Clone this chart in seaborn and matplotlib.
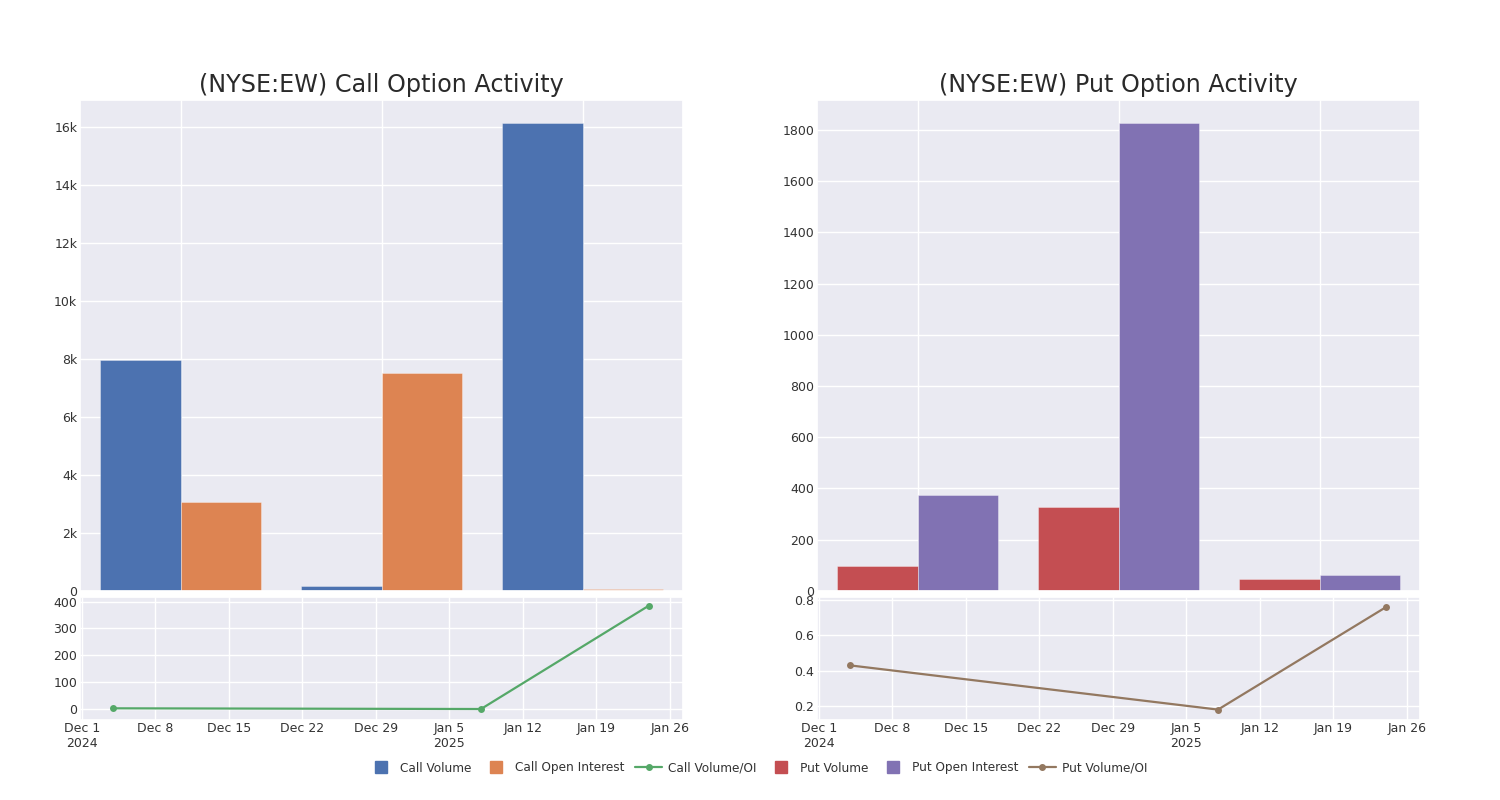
import numpy as np
import pandas as pd
import matplotlib
matplotlib.use("Agg")
import matplotlib.pyplot as plt
import matplotlib.dates as mdates
from matplotlib.ticker import FuncFormatter, MultipleLocator
from matplotlib.lines import Line2D
import seaborn as sns

# ---- data ----
bar_dates = ["2024-12-04", "2025-01-08", "2025-01-24"]
call_volume = [7950, 150, 16130]
call_open_interest = [3060, 7500, 42]
put_volume = [98, 328, 47]
put_open_interest = [372, 1826, 63]
line_dates = ["2024-12-04", "2025-01-08", "2025-01-24"]
call_vol_oi = [2.6, 0.02, 385]
put_vol_oi = [0.43, 0.18, 0.76]

deep = sns.color_palette("deep")
c_cv, c_coi, c_cr, c_pv, c_poi, c_pr = deep[0], deep[1], deep[2], deep[3], deep[4], deep[5]

sns.set_theme(style="darkgrid")
plt.rcParams['font.family'] = ['DejaVu Sans']

fig = plt.figure(figsize=(15, 8), dpi=100)

W = 0.402
lefts = [80 / 1500, 817 / 1500]
top_b, top_h = 1 - 590.7 / 800, (590.7 - 100) / 800
bot_b, bot_h = 1 - 719.5 / 800, (719.5 - 596.7) / 800

def date_fmt(x, pos):
    d = mdates.num2date(x)
    s = f"{d.strftime('%b')} {d.day}"
    if pos == 0 or (d.month == 1 and d.day <= 7):
        s += f"\n{d.year}"
    return s

def make_panel(left, title, vol, oi, vol_lab, oi_lab, cv, coi, ratio, cr, ylim_bot, yfmt, ystep, bot_step):
    ax = fig.add_axes([left, top_b, W, top_h])
    df = pd.DataFrame({
        "date": bar_dates * 2,
        "value": list(vol) + list(oi),
        "kind": [vol_lab] * len(vol) + [oi_lab] * len(oi),
    })
    sns.barplot(data=df, x="date", y="value", hue="kind", palette=[cv, coi],
                ax=ax, legend=False, edgecolor=(1, 1, 1, 0.4), linewidth=0.6,
                saturation=1)
    ax.set_xlabel("")
    ax.set_ylabel("")
    ax.xaxis.grid(True, color="white", linewidth=1)
    ax.set_axisbelow(True)
    ax.tick_params(axis="x", labelbottom=False, length=0)
    ax.tick_params(axis="y", length=0, pad=2, labelsize=9, labelcolor="#333333")
    ax.yaxis.set_major_locator(MultipleLocator(ystep))
    if yfmt:
        ax.yaxis.set_major_formatter(FuncFormatter(yfmt))
    ax.set_title(title, fontsize=17.2, color="#2a2a2a", pad=5.5)
    ax.set_xlim(-0.5, 2.5)

    bx = fig.add_axes([left, bot_b, W, bot_h])
    ld = pd.to_datetime(line_dates)
    sns.lineplot(x=ld, y=ratio, ax=bx, color=cr, marker="o", markersize=5,
                 markeredgewidth=0, linewidth=1.6)
    bx.set_xlim(mdates.date2num(pd.Timestamp("2024-12-01")) - 0.19,
                mdates.date2num(pd.Timestamp("2024-12-01")) + 57.24)
    bx.set_ylim(*ylim_bot)
    bx.xaxis.set_major_locator(mdates.WeekdayLocator(byweekday=mdates.SU))
    bx.xaxis.set_major_formatter(FuncFormatter(date_fmt))
    bx.yaxis.set_major_locator(MultipleLocator(bot_step))
    bx.tick_params(axis="both", length=0, pad=2, labelsize=9, labelcolor="#333333")
    bx.set_xlabel("")
    bx.set_ylabel("")
    return ax, bx

make_panel(lefts[0], "(NYSE:EW) Call Option Activity", call_volume, call_open_interest,
           "Call Volume", "Call Open Interest", c_cv, c_coi, call_vol_oi, c_cr,
           (-39, 418), lambda v, p: "0" if v == 0 else f"{int(round(v / 1000))}k", 2000, 100)
make_panel(lefts[1], "(NYSE:EW) Put Option Activity", put_volume, put_open_interest,
           "Put Volume", "Put Open Interest", c_pv, c_poi, put_vol_oi, c_pr,
           (0.124, 0.819), None, 200, 0.2)

handles = [
    Line2D([], [], marker="s", ls="", color=c_cv, markersize=8),
    Line2D([], [], marker="s", ls="", color=c_coi, markersize=8),
    Line2D([], [], marker="o", ls="-", color=c_cr, markersize=4, lw=1.6),
    Line2D([], [], marker="s", ls="", color=c_pv, markersize=8),
    Line2D([], [], marker="s", ls="", color=c_poi, markersize=8),
    Line2D([], [], marker="o", ls="-", color=c_pr, markersize=4, lw=1.6),
]
labels = ["Call Volume", "Call Open Interest", "Call Volume/OI",
          "Put Volume", "Put Open Interest", "Put Volume/OI"]
fig.legend(handles, labels, loc="center", bbox_to_anchor=(0.505, 0.04), ncol=6,
           frameon=False, fontsize=8.7, handlelength=2.2, columnspacing=0.9,
           handletextpad=0.5, labelcolor="#333333")

fig.savefig("out.png", dpi=100, facecolor="white")
